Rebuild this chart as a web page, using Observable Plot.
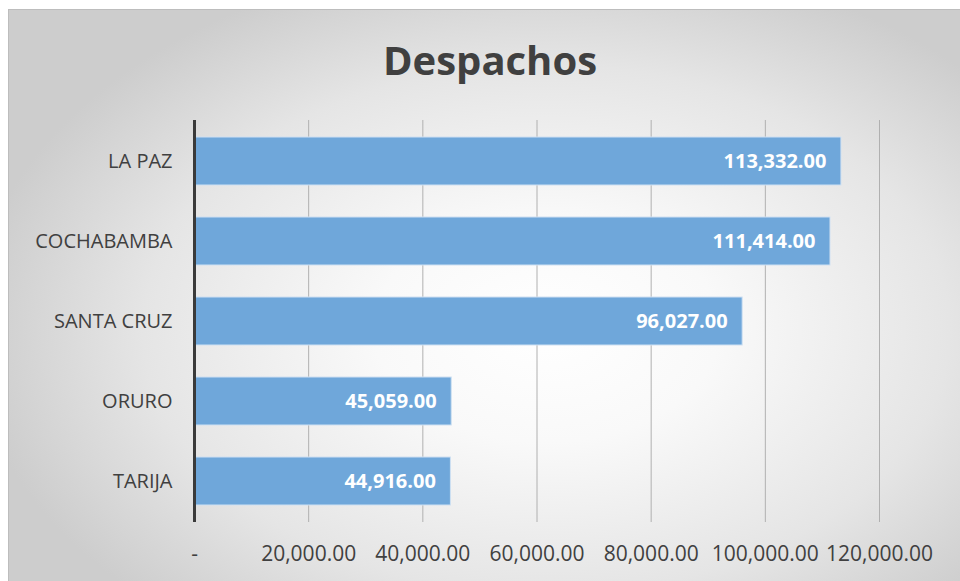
<!DOCTYPE html>
<html>
<head>
<meta charset="utf-8">
<script src="https://cdn.jsdelivr.net/npm/d3@7"></script>
<script src="https://cdn.jsdelivr.net/npm/@observablehq/plot@0.6"></script>
<style>
  html, body { margin: 0; padding: 0; background: #ffffff; }
  #wrap { position: relative; width: 960px; height: 581px; overflow: hidden; }
  #box {
    position: absolute; left: 8px; top: 9px; width: 960px; height: 580px;
    border: 1px solid #bdbdbd;
    background: radial-gradient(ellipse 60% 65% at 56% 55%, #ffffff 0%, #f9f9f9 30%, #e5e5e5 70%, #cdcdcd 100%);
  }
  #title {
    position: absolute; left: 0; top: 0; width: 960px; height: 100px;
    display: flex; align-items: center; justify-content: center; padding-left: 20px; box-sizing: border-box;
    font-family: "Open Sans", sans-serif; font-weight: 700; font-size: 40px; color: #404040;
    padding-top: 18px;
  }
  #chart { position: absolute; left: 0; top: 100px; }
</style>
</head>
<body>
<div id="wrap">
  <div id="box"></div>
  <div id="title">Despachos</div>
  <div id="chart"></div>
</div>
<script>
const categories = ["LA PAZ", "COCHABAMBA", "SANTA CRUZ", "ORURO", "TARIJA"];
const values = [113332, 111414, 96027, 45059, 44916];
const xTicks = [0, 20000, 40000, 60000, 80000, 100000, 120000];

const data = categories.map((c, i) => ({cat: c, v: values[i]}));
const fmt2 = d3.format(",.2f");
const tickFmt = d => d === 0 ? "-" : fmt2(d);

const plot = Plot.plot({
  width: 960,
  height: 481,
  marginTop: 20,
  marginBottom: 59,
  marginLeft: 194,
  marginRight: 81,
  style: {background: "transparent", fontFamily: "'Open Sans', sans-serif", color: "#404040"},
  x: {domain: [0, 120000], ticks: xTicks, tickFormat: tickFmt, label: null},
  y: {domain: categories, paddingInner: 0.4, paddingOuter: 0.2, label: null},
  marks: [
    Plot.ruleX(xTicks.slice(1), {stroke: "#b0b0b0", strokeWidth: 1, strokeOpacity: 1}),
    Plot.barX(data, {y: "cat", x: "v", fill: "#6fa7da", stroke: "#cfe0f2", strokeWidth: 1}),
    Plot.ruleX([0], {stroke: "#3a3a3a", strokeWidth: 3}),
    Plot.axisX({ticks: xTicks, tickFormat: tickFmt, tickSize: 0, tickPadding: 24, fontSize: 21, fill: "#404040", label: null}),
    Plot.axisY({tickSize: 0, tickPadding: 22, fontSize: 20, fill: "#404040", label: null}),
    Plot.text(data, {y: "cat", x: "v", text: d => fmt2(d.v), textAnchor: "end", dx: -15, fill: "white", fontWeight: "bold", fontSize: 20})
  ]
});
document.getElementById("chart").appendChild(plot);
</script>
</body>
</html>
